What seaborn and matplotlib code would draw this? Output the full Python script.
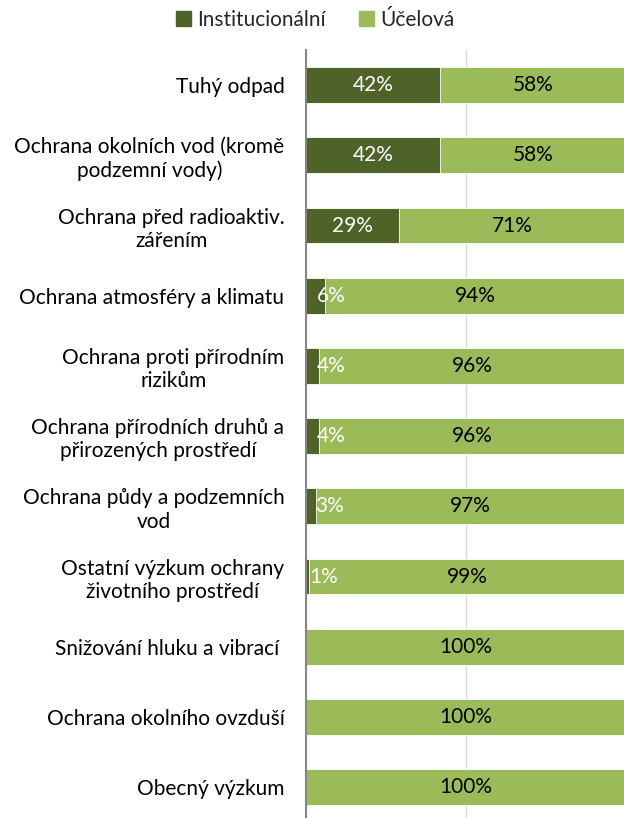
import matplotlib as mpl
mpl.use('Agg')
import matplotlib.pyplot as plt
import matplotlib.patches as mpatches
import seaborn as sns
import pandas as pd

# ── Data ──────────────────────────────────────────────────────────────────
categories = [
    'Tuhý odpad',
    'Ochrana okolních vod (kromě\npodzemní vody)',
    'Ochrana před radioaktiv.\nzářením',
    'Ochrana atmosféry a klimatu',
    'Ochrana proti přírodním\nrizikům',
    'Ochrana přírodních druhů a\npřirozených prostředí',
    'Ochrana půdy a podzemních\nvod',
    'Ostatní výzkum ochrany\nživotního prostředí',
    'Snižování hluku a vibrací ',
    'Ochrana okolního ovzduší',
    'Obecný výzkum',
]
institucionalni = [42, 42, 29, 6, 4, 4, 3, 1, 0, 0, 0]
ucelova = [58, 58, 71, 94, 96, 96, 97, 99, 100, 100, 100]

DARK = '#4F6228'
LIGHT = '#9BBB59'
FS = 15

sns.set_theme(style='white')
plt.rcParams['font.family'] = ['Lato', 'DejaVu Sans']

df = pd.DataFrame({'kat': categories, 'inst': institucionalni, 'uc': ucelova})
df['total'] = df['inst'] + df['uc']

fig = plt.figure(figsize=(6.24, 8.18), dpi=100)
ax = fig.add_axes([306 / 624, 0.0, 320 / 624, 1 - 50 / 818])

sns.barplot(data=df, y='kat', x='total', color=LIGHT, orient='h', saturation=1,
            width=0.51, edgecolor='white', linewidth=0.6, ax=ax)
sns.barplot(data=df, y='kat', x='inst', color=DARK, orient='h', saturation=1,
            width=0.51, edgecolor='white', linewidth=0.6, ax=ax)

ax.set_xlim(0, 100)
ax.set_ylim(10.44, -0.5)
ax.set_xlabel('')
ax.set_ylabel('')
ax.set_xticks([])
ax.axvline(50, color='#D9D9D9', lw=1, zorder=0)
ax.set_axisbelow(True)
for s in ['top', 'right', 'bottom']:
    ax.spines[s].set_visible(False)
ax.spines['left'].set_color('#868686')
ax.spines['left'].set_linewidth(1.5)
ax.spines['left'].set_zorder(5)
ax.tick_params(axis='y', length=0, pad=15.5, labelsize=FS)
for lab in ax.get_yticklabels():
    lab.set_multialignment('center')
    lab.set_color('#000000')

# data labels
for i, (a, b) in enumerate(zip(institucionalni, ucelova)):
    if a >= 10:
        ax.text(a / 2, i, f'{a}%', color='white', ha='center', va='center',
                fontsize=FS)
    elif a > 0:
        ax.text(min(a, 3.5), i, f'{a}%', color='white', ha='left',
                va='center', fontsize=FS)
    ax.text(a + b / 2, i, f'{b}%', color='black', ha='center', va='center',
            fontsize=FS)

handles = [mpatches.Patch(color=DARK, label='Institucionální'),
           mpatches.Patch(color=LIGHT, label='Účelová')]
fig.legend(handles=handles, loc='center', bbox_to_anchor=(0.505, 1 - 20 / 818),
           ncol=2, frameon=False, fontsize=FS, handlelength=0.7,
           handleheight=0.7, handletextpad=0.3, columnspacing=1.6)

fig.savefig('out.png', dpi=100)
